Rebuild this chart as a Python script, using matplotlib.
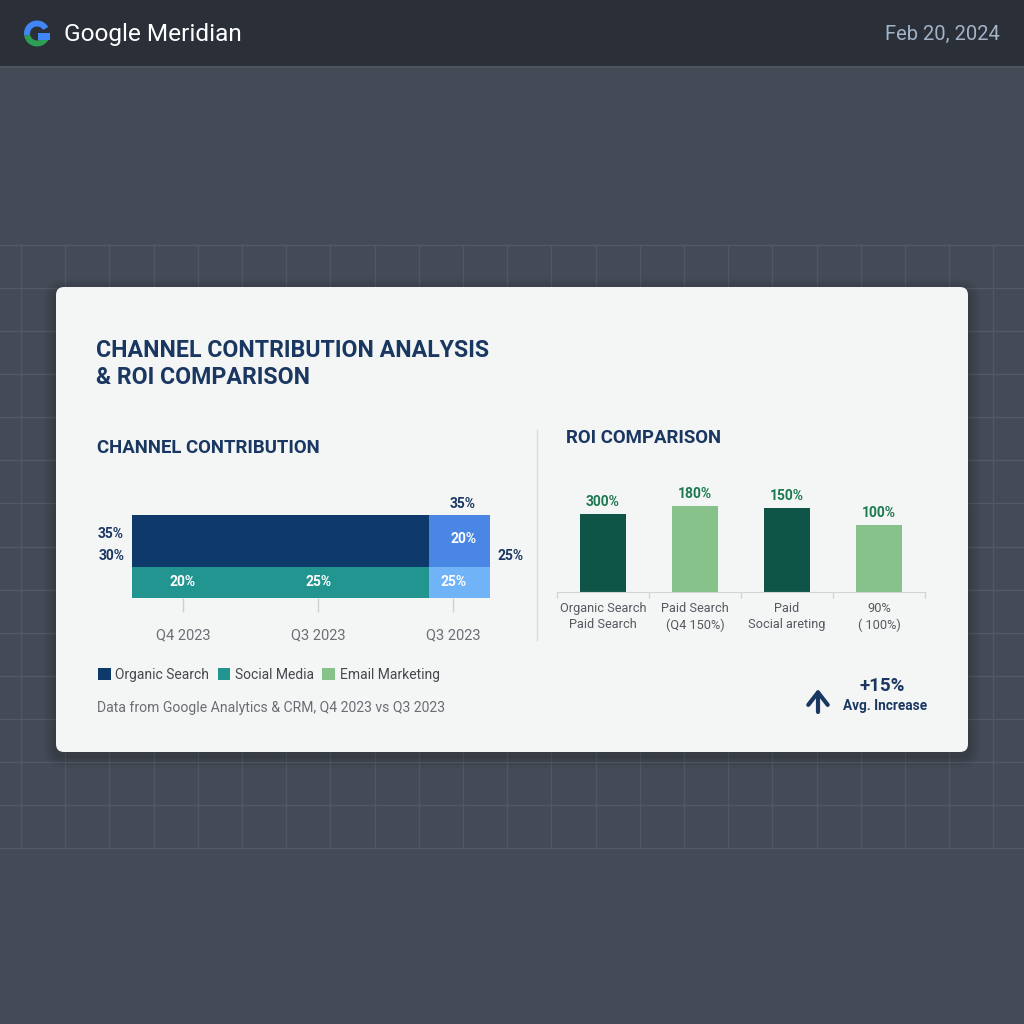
import matplotlib
matplotlib.use("Agg")
import matplotlib.pyplot as plt
from matplotlib.patches import FancyBboxPatch, Rectangle, Wedge, Patch

plt.rcParams['font.family'] = ['Roboto', 'DejaVu Sans']

# ---------------- data ----------------
header_title = "Google Meridian"
header_date = "Feb 20, 2024"
main_title = "CHANNEL CONTRIBUTION ANALYSIS\n& ROI COMPARISON"

contrib_periods = ["Q4 2023", "Q3 2023", "Q3 2023"]
contrib_segments = [83, 17]                 # share of the bar: main span, last-quarter span
social_labels = ["20%", "25%", "25%"]      # lower row labels per period
organic_side_labels = ["35%", "30%"]       # left of the bar
blue_labels = ["35%", "20%", "25%"]        # above, inside, right of the last segment

legend_names = ["Organic Search", "Social Media", "Email Marketing"]

roi_channels = ["Organic Search\nPaid Search", "Paid Search\n(Q4 150%)",
                "Paid\nSocial areting", "90%\n( 100%)"]
roi_labels = ["300%", "180%", "150%", "100%"]
roi_bar_heights = [78, 86, 84, 67]          # drawn heights as shown

note = "Data from Google Analytics & CRM, Q4 2023 vs Q3 2023"
kpi_value = "+15%"
kpi_label = "Avg. Increase"

# ---------------- colours ----------------
NAVY = "#0d3a6b"
TEAL = "#229590"
BLUE = "#4a86e4"
LBLUE = "#70b3f6"
DGREEN = "#0f5547"
LGREEN = "#86c28a"
GTEXT = "#1d7a50"
TITLE = "#1a3762"

fig = plt.figure(figsize=(10.24, 10.24), dpi=100)
bg = fig.add_axes([0, 0, 1, 1])
bg.set_xlim(0, 1024)
bg.set_ylim(1024, 0)
bg.axis("off")

# background
bg.add_patch(Rectangle((0, 0), 1024, 1024, color="#444a56", zorder=0))
bg.add_patch(Rectangle((0, 0), 1024, 66, color="#2a2f38", zorder=1))
bg.plot([0, 1024], [66.5, 66.5], color="#4d5462", lw=1.5, zorder=2)

# grid
gy0, gy1 = 245, 848
for i in range(15):
    y = gy0 + i * (gy1 - gy0) / 14
    bg.plot([0, 1024], [y, y], color="#525a67", lw=1, zorder=1)
x = 21
while x < 1024:
    bg.plot([x, x], [gy0, gy1], color="#505865", lw=1, zorder=1)
    x += 44.2

# card shadow + card
for k, a in enumerate([0.06, 0.05, 0.04, 0.03]):
    s = 3 + k * 3
    bg.add_patch(FancyBboxPatch((56 - s, 287 - s + 4), 912 + 2 * s, 465 + 2 * s,
                                boxstyle="round,pad=0,rounding_size=%d" % (8 + s),
                                fc="black", ec="none", alpha=a, zorder=2))
bg.add_patch(FancyBboxPatch((56, 287), 912, 465, boxstyle="round,pad=0,rounding_size=8",
                            fc="#f4f5f5", ec="none", zorder=3))

# header logo
cx, cy = 37, 33.5
bg.add_patch(Wedge((cx, cy), 13, 170, 330, width=6, fc="#4285f4", ec="none", zorder=4))
bg.add_patch(Wedge((cx, cy), 13, 30, 170, width=6, fc="#2f9e55", ec="none", zorder=4))
bg.add_patch(Rectangle((cx + 1, cy - 1), 12, 7, fc="#4285f4", ec="none", zorder=4))
bg.text(64, 34, header_title, color="white", fontsize=17.6, va="center", ha="left", zorder=5)
bg.text(1000, 34, header_date, color="#a3b3c8", fontsize=14.5, va="center", ha="right", zorder=5)

# titles
bg.text(96, 364, main_title, color=TITLE, fontsize=16.7, fontweight="bold",
        va="center", ha="left", linespacing=1.2, zorder=5)
bg.text(97, 448, "CHANNEL CONTRIBUTION", color=TITLE, fontsize=13.4, fontweight="bold",
        va="center", ha="left", zorder=5)
bg.text(566, 438, "ROI COMPARISON", color=TITLE, fontsize=13.4, fontweight="bold",
        va="center", ha="left", zorder=5)

# divider
bg.plot([537, 537], [430, 640], color="#d9dadb", lw=1, zorder=4)

# ---------------- left chart ----------------
axL = fig.add_axes([132 / 1024, 1 - 598 / 1024, 358 / 1024, 83 / 1024])
axL.set_xlim(0, 100)
axL.set_ylim(0, 83)
axL.set_facecolor("none")
left = 0
for seg, ctop, cbot in zip(contrib_segments, [NAVY, BLUE], [TEAL, LBLUE]):
    axL.barh(57, seg, left=left, height=52, color=ctop, edgecolor="none")
    axL.barh(15.5, seg, left=left, height=31, color=cbot, edgecolor="none")
    left += seg
period_pos = [14.2, 52.0, 89.7]
for p, lab in zip(period_pos, social_labels):
    axL.text(p, 15.5, lab, color="white", fontsize=10, fontweight="bold", ha="center", va="center")
axL.text(92.5, 59, blue_labels[1], color="white", fontsize=10, fontweight="bold",
         ha="center", va="center")
axL.set_xticks(period_pos, contrib_periods)
axL.set_yticks([])
axL.tick_params(axis="x", length=10, width=1, color="#cfd0d1", pad=11.5,
                labelsize=10.5, labelcolor="#6b6f75")
for sp in axL.spines.values():
    sp.set_visible(False)

bg.text(111, 534, organic_side_labels[0], color=TITLE, fontsize=10, fontweight="bold",
        ha="center", va="center", zorder=5)
bg.text(112, 556, organic_side_labels[1], color=TITLE, fontsize=10, fontweight="bold",
        ha="center", va="center", zorder=5)
bg.text(463, 504, blue_labels[0], color=TITLE, fontsize=10, fontweight="bold",
        ha="center", va="center", zorder=5)
bg.text(511, 556, blue_labels[2], color=TITLE, fontsize=10, fontweight="bold",
        ha="center", va="center", zorder=5)

# ---------------- right chart ----------------
axR = fig.add_axes([557 / 1024, 1 - 592 / 1024, 368 / 1024, 122 / 1024])
axR.set_xlim(-0.5, 3.5)
axR.set_ylim(0, 122)
axR.set_facecolor("none")
cols = [DGREEN, LGREEN, DGREEN, LGREEN]
xs = list(range(len(roi_channels)))
axR.bar(xs, roi_bar_heights, width=0.5, color=cols, edgecolor="none")
for xi, h, lab in zip(xs, roi_bar_heights, roi_labels):
    axR.text(xi, h + 12, lab, color=GTEXT, fontsize=10, fontweight="bold", ha="center", va="center")
axR.set_xticks(xs, roi_channels)
axR.set_xticks([-0.5, 0.5, 1.5, 2.5, 3.5], minor=True)
axR.set_yticks([])
axR.tick_params(axis="x", which="major", length=0, pad=7.5, labelsize=9.2,
                labelcolor="#55595f")
for t in axR.get_xticklabels():
    t.set_linespacing(1.3)
axR.tick_params(axis="x", which="minor", length=4, width=1, color="#d3d4d5")
for name, sp in axR.spines.items():
    sp.set_visible(name == "bottom")
axR.spines["bottom"].set_color("#d3d4d5")

# ---------------- legend & notes ----------------
handles = [Patch(fc=c, ec="none") for c in [NAVY, TEAL, LGREEN]]
leg = bg.legend(handles, legend_names, loc="center left",
                bbox_to_anchor=(98 / 1024, 1 - 675 / 1024), ncol=3, frameon=False,
                handlelength=0.9, handleheight=0.9, handletextpad=0.35,
                columnspacing=0.6, fontsize=10, borderaxespad=0, borderpad=0)
for t in leg.get_texts():
    t.set_color("#45494f")
leg.set_zorder(6)

bg.text(97, 708, note, color="#6a6e74", fontsize=10.1, ha="left", va="center", zorder=5)

bg.annotate("", xy=(818, 689), xytext=(818, 712),
            arrowprops=dict(arrowstyle="->,head_length=0.45,head_width=0.35", lw=3,
                            color=TITLE, mutation_scale=20, shrinkA=0, shrinkB=0),
            zorder=6)
bg.text(882, 686, kpi_value, color=TITLE, fontsize=13.5, fontweight="bold",
        ha="center", va="center", zorder=5)
bg.text(885, 706, kpi_label, color=TITLE, fontsize=9.8, fontweight="bold",
        ha="center", va="center", zorder=5)

fig.savefig("out.png", dpi=100)
